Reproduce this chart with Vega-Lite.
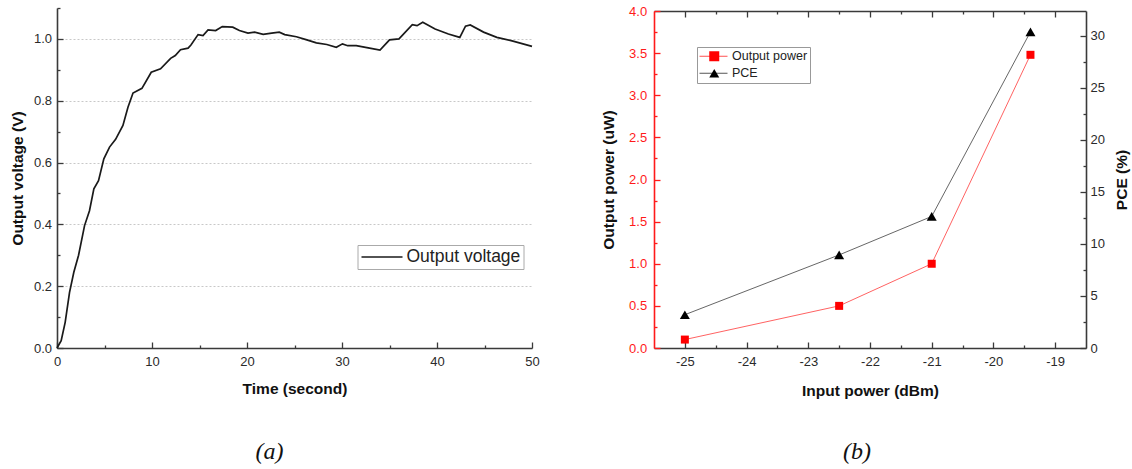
{
  "$schema": "https://vega.github.io/schema/vega-lite/v6.json",
  "padding": {"left": 10, "top": 5, "right": 2, "bottom": 2},
  "background": "white",
  "spacing": 61,
  "config": {
    "view": {"stroke": null},
    "axis": {
      "domainColor": "#3a3a3a", "domainWidth": 1.6, "tickColor": "#3a3a3a", "tickWidth": 1.3,
      "labelFont": "Liberation Sans", "labelFontSize": 13, "labelColor": "#2a2a2a",
      "titleFont": "Liberation Sans", "titleFontSize": 15.5, "titleFontWeight": "bold", "titleColor": "#111",
      "grid": false, "labelFlush": false, "labelOverlap": false
    }
  },
  "resolve": {"scale": {"color": "independent", "stroke": "independent", "shape": "independent"}, "legend": {"color": "independent", "stroke": "independent", "shape": "independent"}},
  "hconcat": [
    {
      "width": 475, "height": 340,
      "title": {"text": "(a)", "orient": "bottom", "font": "Liberation Serif", "fontStyle": "italic", "fontWeight": "normal", "fontSize": 24, "color": "#111", "offset": 43, "dx": -25},
      "data": {"values": [
        {"t": 0, "v": 0.0}, {"t": 0.44, "v": 0.024}, {"t": 0.86, "v": 0.083}, {"t": 1.32, "v": 0.18},
        {"t": 1.77, "v": 0.245}, {"t": 2.27, "v": 0.30}, {"t": 2.9, "v": 0.396}, {"t": 3.42, "v": 0.444},
        {"t": 3.88, "v": 0.515}, {"t": 4.37, "v": 0.541}, {"t": 4.93, "v": 0.612}, {"t": 5.53, "v": 0.65},
        {"t": 6.17, "v": 0.675}, {"t": 6.94, "v": 0.72}, {"t": 7.47, "v": 0.779}, {"t": 8.0, "v": 0.825},
        {"t": 8.94, "v": 0.84}, {"t": 9.92, "v": 0.892}, {"t": 10.9, "v": 0.903}, {"t": 11.96, "v": 0.937},
        {"t": 12.45, "v": 0.946}, {"t": 13.0, "v": 0.965}, {"t": 13.8, "v": 0.97}, {"t": 14.1, "v": 0.98},
        {"t": 14.85, "v": 1.014}, {"t": 15.37, "v": 1.011}, {"t": 15.9, "v": 1.029}, {"t": 16.7, "v": 1.027},
        {"t": 17.4, "v": 1.04}, {"t": 18.5, "v": 1.038}, {"t": 19.2, "v": 1.027}, {"t": 20.1, "v": 1.019},
        {"t": 20.8, "v": 1.022}, {"t": 21.7, "v": 1.015}, {"t": 22.6, "v": 1.019}, {"t": 23.4, "v": 1.022},
        {"t": 23.97, "v": 1.014}, {"t": 25.2, "v": 1.007}, {"t": 26.3, "v": 0.997}, {"t": 27.3, "v": 0.987},
        {"t": 28.4, "v": 0.982}, {"t": 29.4, "v": 0.973}, {"t": 30.05, "v": 0.984}, {"t": 30.6, "v": 0.978},
        {"t": 31.5, "v": 0.978}, {"t": 32.9, "v": 0.97}, {"t": 34.0, "v": 0.964}, {"t": 35.0, "v": 0.997},
        {"t": 36.0, "v": 1.0}, {"t": 37.4, "v": 1.046}, {"t": 37.9, "v": 1.043}, {"t": 38.5, "v": 1.054},
        {"t": 39.8, "v": 1.032}, {"t": 41.2, "v": 1.016}, {"t": 42.4, "v": 1.005}, {"t": 43.0, "v": 1.041},
        {"t": 43.5, "v": 1.045}, {"t": 44.9, "v": 1.022}, {"t": 46.3, "v": 1.005}, {"t": 48.0, "v": 0.993},
        {"t": 50.0, "v": 0.976}
      ]},
      "layer": [
        {
          "mark": {"type": "line", "strokeWidth": 1.7},
          "encoding": {
            "x": {"field": "t", "type": "quantitative", "scale": {"domain": [0, 50], "nice": false, "zero": false},
                  "axis": {"orient": "bottom", "values": [0, 10, 20, 30, 40, 50], "title": "Time (second)", "ticks": false, "tickSize": 0, "labelPadding": 7.5, "titlePadding": 13}},
            "y": {"field": "v", "type": "quantitative", "scale": {"domain": [0, 1.1], "nice": false, "zero": false},
                  "axis": {"orient": "left", "values": [0, 0.2, 0.4, 0.6, 0.8, 1.0], "format": ".1f", "title": "Output voltage (V)", "ticks": false, "tickSize": 0, "labelPadding": 5.5, "titlePadding": 8,
                           "grid": true, "gridColor": "#c8c8c8", "gridDash": [2, 2], "gridWidth": 1}},
            "stroke": {"datum": "Output voltage", "scale": {"domain": ["Output voltage"], "range": ["#1a1a1a"]},
                       "legend": {"orient": "none", "legendX": 300.5, "legendY": 237, "title": null, "strokeColor": "#aaaaaa", "fillColor": "white", "padding": 3,
                                  "labelFont": "Liberation Sans", "labelFontSize": 17.5, "labelColor": "#222", "labelOffset": 3,
                                  "symbolType": "stroke", "symbolSize": 1681, "symbolStrokeWidth": 1.6, "clipHeight": 18}}
          }
        },
        {
          "mark": {"type": "line", "opacity": 0},
          "encoding": {
            "x": {"field": "t", "type": "quantitative", "scale": {"domain": [0, 50], "nice": false, "zero": false},
                  "axis": {"orient": "bottom", "values": [0, 10, 20, 30, 40, 50], "labels": false, "title": null, "domain": false, "tickSize": 6, "offset": -6}},
            "y": {"field": "v", "type": "quantitative", "scale": {"domain": [0, 1.1], "nice": false, "zero": false},
                  "axis": {"orient": "left", "values": [0, 0.2, 0.4, 0.6, 0.8, 1.0], "labels": false, "title": null, "domain": false, "tickSize": 6, "offset": -6}}
          }
        },
        {
          "mark": {"type": "line", "opacity": 0},
          "encoding": {
            "x": {"field": "t", "type": "quantitative", "scale": {"domain": [0, 50], "nice": false, "zero": false},
                  "axis": {"orient": "bottom", "values": [5, 15, 25, 35, 45], "labels": false, "title": null, "domain": false, "tickSize": 3, "offset": -3}},
            "y": {"field": "v", "type": "quantitative", "scale": {"domain": [0, 1.1], "nice": false, "zero": false},
                  "axis": {"orient": "left", "values": [0.1, 0.3, 0.5, 0.7, 0.9, 1.1], "labels": false, "title": null, "domain": false, "tickSize": 3, "offset": -3}}
          }
        }
      ],
      "resolve": {"axis": {"x": "independent", "y": "independent"}}
    },
    {
      "width": 432, "height": 340,
      "title": {"text": "(b)", "orient": "bottom", "font": "Liberation Serif", "fontStyle": "italic", "fontWeight": "normal", "fontSize": 24, "color": "#111", "offset": 41, "dx": -13},
      "data": {"values": [
        {"p": -25, "power": 0.1, "pce": 3.2},
        {"p": -22.5, "power": 0.5, "pce": 8.95},
        {"p": -21, "power": 1.0, "pce": 12.65},
        {"p": -19.4, "power": 3.48, "pce": 30.4}
      ]},
      "layer": [
        {
          "mark": {"type": "line", "strokeWidth": 0.9},
          "encoding": {
            "x": {"field": "p", "type": "quantitative", "scale": {"domain": [-25.5, -18.5], "nice": false, "zero": false},
                  "axis": {"orient": "bottom", "values": [-25, -24, -23, -22, -21, -20, -19], "labelExpr": "replace(datum.label, '\u2212', '-')", "title": "Input power (dBm)", "ticks": false, "tickSize": 0, "labelPadding": 7.5, "titlePadding": 15}},
            "y": {"field": "power", "type": "quantitative", "scale": {"domain": [0, 4], "range": [340, 3], "nice": false, "zero": false},
                  "axis": {"orient": "left", "values": [0, 0.5, 1, 1.5, 2, 2.5, 3, 3.5, 4], "format": ".1f", "title": "Output power (uW)", "ticks": false, "tickSize": 0, "labelPadding": 7.3, "titlePadding": 12,
                           "labelColor": "#ff1a1a", "domainColor": "#ff1a1a"}},
            "stroke": {"datum": "Output power ", "scale": {"domain": ["Output power ", "PCE "], "range": ["#ff5050", "#555555"]},
                       "legend": {"orient": "none", "legendX": 43, "legendY": 39, "title": null, "strokeColor": "#999999", "fillColor": "white", "padding": 2,
                                  "labelFont": "Liberation Sans", "labelFontSize": 12.5, "labelColor": "#222", "labelOffset": 4,
                                  "symbolType": "stroke", "symbolSize": 784, "symbolStrokeWidth": 1, "clipHeight": 14.5, "rowPadding": 2}}
          }
        },
        {
          "mark": {"type": "line", "strokeWidth": 0.9},
          "encoding": {
            "x": {"field": "p", "type": "quantitative", "scale": {"domain": [-25.5, -18.5], "nice": false, "zero": false}, "axis": null},
            "y": {"field": "pce", "type": "quantitative", "scale": {"domain": [0, 32.4], "range": [340, 3], "nice": false, "zero": false},
                  "axis": {"orient": "right", "values": [0, 5, 10, 15, 20, 25, 30], "title": "PCE (%)", "titleAngle": 270, "titleBaseline": "top", "ticks": false, "tickSize": 0, "labelPadding": 4, "titlePadding": 10}},
            "stroke": {"datum": "PCE "}
          }
        },
        {
          "mark": {"type": "point", "filled": true, "opacity": 1},
          "encoding": {
            "x": {"field": "p", "type": "quantitative", "scale": {"domain": [-25.5, -18.5], "nice": false, "zero": false}, "axis": null},
            "y": {"field": "power", "type": "quantitative", "scale": {"domain": [0, 4], "range": [340, 3], "nice": false, "zero": false}, "axis": null},
            "color": {"datum": "Output power", "scale": {"domain": ["Output power", "PCE"], "range": ["#ff0000", "#000000"]},
                      "legend": {"orient": "none", "legendX": 52, "legendY": 39, "title": null, "padding": 2, "labelFontSize": 12.5, "labelExpr": "''", "labelOffset": 4, "clipHeight": 14.5, "rowPadding": 2, "symbolStrokeWidth": 0}},
            "shape": {"datum": "Output power", "scale": {"domain": ["Output power", "PCE"], "range": ["square", "triangle-up"]},
                      "legend": {"orient": "none", "legendX": 52, "legendY": 39, "title": null, "padding": 2, "labelFontSize": 12.5, "labelExpr": "''", "labelOffset": 4, "clipHeight": 14.5, "rowPadding": 2, "symbolStrokeWidth": 0}},
            "size": {"value": 64}
          }
        },
        {
          "mark": {"type": "point", "filled": true, "opacity": 1},
          "encoding": {
            "x": {"field": "p", "type": "quantitative", "scale": {"domain": [-25.5, -18.5], "nice": false, "zero": false}, "axis": null},
            "y": {"field": "pce", "type": "quantitative", "scale": {"domain": [0, 32.4], "range": [340, 3], "nice": false, "zero": false}, "axis": null},
            "color": {"datum": "PCE"},
            "shape": {"datum": "PCE"},
            "size": {"value": 100}
          }
        },
        {
          "mark": {"type": "line", "opacity": 0},
          "encoding": {
            "x": {"field": "p", "type": "quantitative", "scale": {"domain": [-25.5, -18.5], "nice": false, "zero": false},
                  "axis": {"orient": "bottom", "values": [-25, -24, -23, -22, -21, -20, -19], "labels": false, "title": null, "domain": false, "tickSize": 6, "offset": -6}},
            "y": {"field": "power", "type": "quantitative", "scale": {"domain": [0, 4], "range": [340, 3], "nice": false, "zero": false},
                  "axis": {"orient": "left", "values": [0, 0.5, 1, 1.5, 2, 2.5, 3, 3.5, 4], "labels": false, "title": null, "domain": false, "tickSize": 6, "offset": -6, "tickColor": "#ff1a1a"}}
          }
        },
        {
          "mark": {"type": "line", "opacity": 0},
          "encoding": {
            "x": {"field": "p", "type": "quantitative", "scale": {"domain": [-25.5, -18.5], "nice": false, "zero": false},
                  "axis": {"orient": "top", "values": [-25, -24, -23, -22, -21, -20, -19], "labels": false, "title": null, "ticks": false, "tickSize": 0, "offset": -3}},
            "y": {"field": "power", "type": "quantitative", "scale": {"domain": [0, 4], "range": [340, 3], "nice": false, "zero": false},
                  "axis": {"orient": "left", "values": [0.25, 0.75, 1.25, 1.75, 2.25, 2.75, 3.25, 3.75], "labels": false, "title": null, "domain": false, "tickSize": 3, "offset": -3, "tickColor": "#ff1a1a"}}
          }
        },
        {
          "mark": {"type": "line", "opacity": 0},
          "encoding": {
            "x": {"field": "p", "type": "quantitative", "scale": {"domain": [-25.5, -18.5], "nice": false, "zero": false},
                  "axis": {"orient": "bottom", "values": [-24.5, -23.5, -22.5, -21.5, -20.5, -19.5], "labels": false, "title": null, "domain": false, "tickSize": 3, "offset": -3}},
            "y": {"field": "pce", "type": "quantitative", "scale": {"domain": [0, 32.4], "range": [340, 3], "nice": false, "zero": false},
                  "axis": {"orient": "right", "values": [0, 5, 10, 15, 20, 25, 30], "labels": false, "title": null, "domain": false, "tickSize": 6, "offset": -6}}
          }
        },
        {
          "mark": {"type": "line", "opacity": 0},
          "encoding": {
            "x": {"field": "p", "type": "quantitative", "scale": {"domain": [-25.5, -18.5], "nice": false, "zero": false},
                  "axis": {"orient": "top", "values": [-24.5, -23.5, -22.5, -21.5, -20.5, -19.5], "labels": false, "title": null, "domain": false, "tickSize": 3, "offset": -6}},
            "y": {"field": "pce", "type": "quantitative", "scale": {"domain": [0, 32.4], "range": [340, 3], "nice": false, "zero": false},
                  "axis": {"orient": "right", "values": [2.5, 7.5, 12.5, 17.5, 22.5, 27.5], "labels": false, "title": null, "domain": false, "tickSize": 3, "offset": -3}}
          }
        },
        {
          "mark": {"type": "line", "opacity": 0},
          "encoding": {
            "x": {"field": "p", "type": "quantitative", "scale": {"domain": [-25.5, -18.5], "nice": false, "zero": false},
                  "axis": {"orient": "top", "values": [-25, -24, -23, -22, -21, -20, -19], "labels": false, "title": null, "domain": false, "tickSize": 6, "offset": -9}},
            "y": {"field": "pce", "type": "quantitative", "scale": {"domain": [0, 32.4], "range": [340, 3], "nice": false, "zero": false}, "axis": null}
          }
        }
      ],
      "resolve": {"scale": {"y": "independent"}, "axis": {"x": "independent", "y": "independent"}}
    }
  ]
}
